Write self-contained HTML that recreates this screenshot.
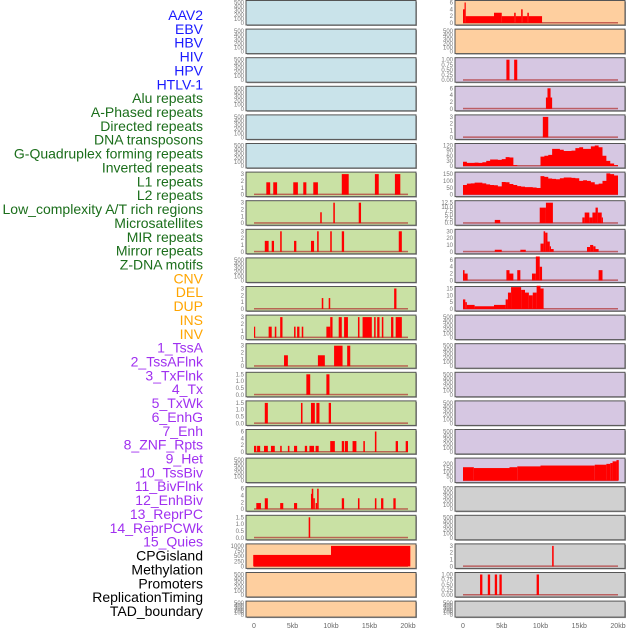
<!DOCTYPE html>
<html><head><meta charset="utf-8"><style>
html,body{margin:0;padding:0;background:#fff;width:630px;height:630px;overflow:hidden}
svg{display:block;font-family:"Liberation Sans",sans-serif}
</style></head><body>
<svg id="chart" width="630" height="630" viewBox="0 0 630 630"></svg>
<script>
const labels=["AAV2","EBV","HBV","HIV","HPV","HTLV-1","Alu repeats","A-Phased repeats","Directed repeats","DNA transposons","G-Quadruplex forming repeats","Inverted repeats","L1 repeats","L2 repeats","Low_complexity A/T rich regions","Microsatellites","MIR repeats","Mirror repeats","Z-DNA motifs","CNV","DEL","DUP","INS","INV","1_TssA","2_TssAFlnk","3_TxFlnk","4_Tx","5_TxWk","6_EnhG","7_Enh","8_ZNF_Rpts","9_Het","10_TssBiv","11_BivFlnk","12_EnhBiv","13_ReprPC","14_ReprPCWk","15_Quies","CPGisland","Methylation","Promoters","ReplicationTiming","TAD_boundary"];
const labelGroups=[6,13,5,15,5];
const groupColors=["#1a1aff","#1b6e1b","#ffa500","#a030f0","#000000"];
const xTicks=[0,5,10,15,20];
const xTickLabels=["0","5kb","10kb","15kb","20kb"];
const emptyTicks=[0,100,200,300,400,500];
// left column: [bg, ymax, ticks, segments [startKb,endKb,value]]
const leftBg=["b","b","b","b","b","b","g","g","g","g","g","g","g","g","g","g","g","g","g","o","o","o"];
const leftMax=[0,0,0,0,0,0,3,3,3,0,3,3,3,1.5,1.5,6,0,6,1.5,1000,0,0];
const leftTicks=[null,null,null,null,null,null,[0,1,2,3],[0,1,2,3],[0,1,2,3],null,[0,1,2,3],[0,1,2,3],[0,1,2,3],["0.0","0.5","1.0","1.5"],["0.0","0.5","1.0","1.5"],[0,2,4,6],null,[0,2,4,6],["0.0","0.5","1.0","1.5"],[0,250,500,750,1000],null,null];
const leftSegs=[[],[],[],[],[],[],
[[1.6,2.1,1.8],[2.5,3.0,1.8],[5.1,5.7,1.8],[6.4,6.8,1.8],[7.7,8.3,1.8],[11.4,12.3,3],[15.7,16.2,3],[18.3,19,3]],
[[8.6,8.8,1.6],[10.3,10.5,3],[13.6,13.9,3]],
[[1.4,1.9,1.6],[2.3,2.6,1.6],[3.4,3.6,3],[5.2,5.5,1.6],[7.4,7.8,1.6],[8.2,8.4,3],[9.9,10.1,3],[11.4,11.7,3],[18.8,19.2,3]],
[],
[[8.8,9.0,1.6],[9.7,9.9,1.6],[18.2,18.5,3]],
[[0,0.1,1.6],[1.9,2.3,1.6],[2.7,2.9,1.6],[3.4,3.7,3],[5.2,5.4,1.6],[5.6,5.9,1.6],[6.2,6.4,1.6],[9.4,9.9,1.6],[9.9,10.2,3],[11,11.4,3],[11.7,12.2,3],[13.5,13.7,3],[14.1,15.3,3],[15.6,15.8,3],[16,16.3,3],[16.6,16.8,3],[17.8,18.1,3],[18.4,19.2,3]],
[[3.9,4.4,1.6],[8.3,9.2,1.6],[10.4,11.5,3],[12.1,12.5,3]],
[[6.8,7.3,1.5],[9.4,9.8,1.5]],
[[1.4,1.8,1.5],[6.1,6.3,1.5],[7.4,7.9,1.5],[8.1,8.5,1.5],[9.7,10,1.5]],
[[0,0.3,1.8],[0.4,0.8,1.8],[1.3,1.8,1.8],[2.2,2.7,1.8],[3.4,3.6,1.8],[4.4,4.6,1.8],[5.2,5.6,1.8],[6.6,6.9,1.8],[7.2,7.8,1.8],[8.0,8.4,1.8],[9.9,10.5,3.2],[11.4,11.7,3.2],[11.8,12.2,3.2],[12.8,13.3,3.2],[14.2,14.4,3.2],[15.7,15.9,6],[18.4,18.7,3.2],[19.7,20,3.2]],
[],
[[0.3,0.9,1.8],[1.4,1.8,3.2],[3.4,3.8,1.8],[5.2,5.6,1.8],[7.4,7.6,4.5],[7.5,7.7,6],[7.7,7.9,3.2],[8.0,8.2,1.8],[8.2,8.4,6],[11.4,11.7,3.2],[13.5,13.7,3.2],[15.7,15.9,3.2],[16.5,16.8,3.2],[18.1,18.4,3.2]],
[[7.1,7.3,1.5]],
[[-0.1,10,560],[10,20.3,1000]],
[],[]];
const rightBg=["o","o","p","p","p","p","p","p","p","p","p","p","p","p","p","p","p","c","c","c","c","c"];
const rightMax=[6,0,1,6,3,120,150,12.5,30,6,15,0,0,0,0,0,245,0,0,3,1,0];
const rightTicks=[[0,2,4,6],null,["0.00","0.25","0.50","0.75","1.00"],[0,2,4,6],[0,1,2,3],[0,30,60,90,120],[0,50,100,150],["0.0","2.5","5.0","7.5","10.0","12.5"],[0,10,20,30],[0,2,4,6],[0,5,10,15],null,null,null,null,null,[0,50,100,150,200],null,null,[0,1,2,3],["0.00","0.25","0.50","0.75","1.00"],null];
const rightSegs=[
[[0,0.2,4],[0.2,0.35,6],[0.35,4,2],[4,5,3],[5,6.6,2],[6.6,6.8,3],[6.8,7.5,2],[7.5,7.7,4],[7.7,8.3,2],[8.3,8.5,3],[8.5,10.2,2]],
[],
[[5.6,6.0,1],[6.6,7.0,1]],
[[10.7,11.5,3.3],[10.9,11.3,6]],
[[10.3,11.0,3]],
null,null,
[[4.1,4.8,2],[9.9,10.7,9.5],[10.7,11.6,12.5],[15.4,15.7,3.5],[15.7,16.3,6.5],[16.3,16.7,3.5],[16.7,17.1,6.5],[17.1,17.4,9.5],[17.4,17.9,6.5],[17.9,18.0,3.5]],
[[4.1,5.0,3],[7.4,8.1,3],[10,10.4,12],[10.4,10.6,30],[10.6,10.9,28],[10.9,11.2,15],[11.2,11.3,8],[11.3,11.7,4],[16,16.4,7],[16.4,16.8,10],[16.8,17.1,8],[17.1,17.5,4]],
[[0,0.2,3],[0.2,0.6,2],[5.6,6.0,3],[6.0,6.5,2],[7.0,7.4,3],[8.9,9.4,2],[9.4,9.9,7],[9.9,10.2,4],[17.5,18,3]],
[[0,0.3,7],[0.3,0.5,5],[0.5,1.5,3],[1.5,4,2],[4,5.5,3],[5.5,5.8,7],[5.8,6.2,12],[6.2,7.5,16],[7.5,8,14],[8,8.5,12],[8.5,9,10],[9,9.5,12],[9.5,10,17],[10,10.4,15]],
[],[],[],[],[],
[[0,1.4,160],[1.4,6,150],[6,7,160],[7,10,170],[10,17,180],[17,18.5,190],[18.5,19,200],[19,19.3,210],[19.3,19.8,230],[19.8,20.1,245]],
[],[],
[[11.5,11.7,3]],
[[2.2,2.5,1],[3.2,3.5,1],[4.1,4.4,1],[4.7,5.0,1],[9.5,9.8,1]],
[]];
// binned area series (0.5kb bins)
const gQuadBins=[25,18,18,20,18,22,30,38,38,36,40,52,50,5,0,0,0,0,0,0,55,60,65,100,100,95,88,88,90,105,110,100,100,115,120,110,60,30,15,5];
const l2Bins=[70,80,82,88,88,82,75,70,68,60,92,90,78,70,62,58,55,55,52,48,135,130,118,115,112,120,125,125,122,120,100,105,100,90,75,80,100,155,150,140];
const binSize=0.5;

const NS="http://www.w3.org/2000/svg";
const svg=document.getElementById('chart');
function mk(tag,attrs,parent){const e=document.createElementNS(NS,tag);for(const k in attrs)e.setAttribute(k,attrs[k]);(parent||svg).appendChild(e);return e;}
const bgColors={b:"#c9e3ea",g:"#c9e1a4",o:"#fecf9f",p:"#d6c7e2",c:"#d0d0d0"};
const rowPitch=28.6;
const cols=[{x0:246,x1:416,z:254,k:7.7},{x0:455,x1:625,z:463,k:7.75}];

// labels
let gi=0,cnt=0;
labels.forEach((t,i)=>{
  while(cnt>=labelGroups[gi]){cnt-=labelGroups[gi];gi++;}
  cnt++;
  const e=mk('text',{x:203,y:15+13.86*i+5,'text-anchor':'end','font-size':14,fill:groupColors[gi]});
  e.textContent=t;
  
  
});

function drawPanel(ci,r,bg,ymax,ticks,segs,bins){
  const c=cols[ci];
  const top=r*rowPitch+0.5, h=(r===21?16:24.5), bot=top+h;
  const g=mk('g',{});
  
  
  mk('rect',{x:c.x0+1,y:top+1,width:c.x1-c.x0,height:h,fill:"#999"},g);
  mk('rect',{x:c.x0,y:top,width:c.x1-c.x0,height:h,fill:bgColors[bg],stroke:"#555",'stroke-width':1},g);
  const y0=bot-2, yt=top+2;
  const tl=ticks||emptyTicks;
  const m=ticks?ymax:500;
  const ys=v=>y0-(v/m)*(y0-yt);
  const xs=kb=>c.z+kb*c.k;
  tl.forEach(t=>{
    const v=parseFloat(t);
    const e=mk('text',{x:c.x0-2,y:ys(v)+2,'text-anchor':'end','font-size':6,fill:"#777"},g);
    e.textContent=String(t);
    
    
  });
  if(ticks){
    mk('rect',{x:xs(0),y:y0-1,width:xs(20)-xs(0),height:1.5,fill:"#b03030",opacity:0.7},g);
    (segs||[]).forEach(s=>{
      const b=mk('rect',{x:xs(s[0]),y:ys(s[2]),width:Math.max(1.2,xs(s[1])-xs(s[0])),height:y0-ys(s[2]),fill:"#ff0000"},g);
      
      
    });
    if(bins){
      let d="M"+xs(0)+","+y0;
      bins.forEach((v,i)=>{d+=" L"+xs(i*binSize)+","+ys(v)+" L"+xs((i+1)*binSize)+","+ys(v);});
      d+=" L"+xs(bins.length*binSize)+","+y0+" Z";
      const p=mk('path',{d:d,fill:"#ff0000"},g);
      
      
    }
  }
}
for(let r=0;r<22;r++){
  drawPanel(0,r,leftBg[r],leftMax[r],leftTicks[r],leftSegs[r],null);
  const bins=r===5?gQuadBins:(r===6?l2Bins:null);
  drawPanel(1,r,rightBg[r],rightMax[r],rightTicks[r],rightSegs[r],bins);
}
// x axes
cols.forEach((c,ci)=>{
  xTicks.forEach((t,i)=>{
    const e=mk('text',{x:c.z+t*c.k,y:628,'text-anchor':'middle','font-size':7,fill:"#666"});
    e.textContent=xTickLabels[i];
    
    
  });
});
</script>
</body></html>
